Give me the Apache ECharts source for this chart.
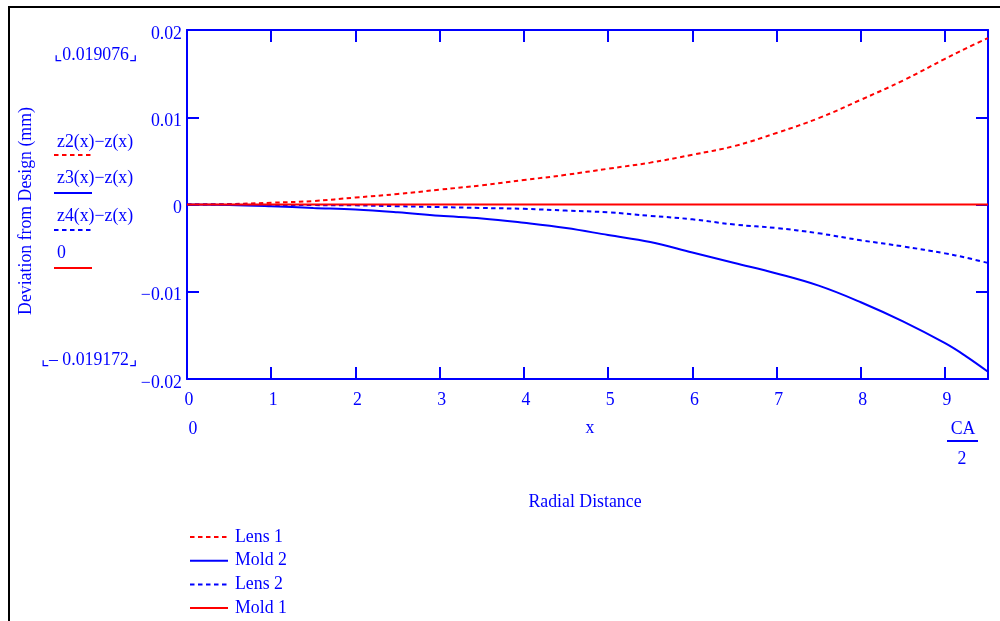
<!DOCTYPE html>
<html>
<head>
<meta charset="utf-8">
<script src="https://cdn.jsdelivr.net/npm/echarts@6/dist/echarts.min.js"></script>
<style>
  html, body { margin: 0; padding: 0; background: #ffffff; }
  #chart { width: 1000px; height: 621px; }
</style>
</head>
<body>
<div id="chart"></div>
<script>
// Radial distance samples (mm), last one is CA/2
const radialDistance = [0, 0.5, 1, 1.5, 2, 2.5, 3, 3.5, 4, 4.5, 5, 5.5, 6, 6.5, 7, 7.5, 8, 8.5, 9, 9.25, 9.51];

// Deviation from design (mm) for each surface
const lens1 = [0, 0.00005, 0.0002, 0.0004, 0.0008, 0.0012, 0.0017, 0.0022, 0.0028, 0.0034, 0.0041, 0.0048, 0.0057, 0.0067, 0.0082, 0.0099, 0.0120, 0.0142, 0.0167, 0.0179, 0.019076];
const mold2 = [0, -0.00005, -0.0002, -0.0004, -0.00058, -0.0009, -0.0013, -0.0016, -0.0021, -0.0027, -0.0035, -0.0043, -0.0055, -0.0067, -0.0079, -0.0093, -0.0112, -0.0134, -0.0159, -0.0174, -0.019172];
const lens2 = [0, 0, -0.00005, -0.00007, -0.0001, -0.0002, -0.0003, -0.0004, -0.0005, -0.0007, -0.0009, -0.0013, -0.0017, -0.0023, -0.0027, -0.0033, -0.0041, -0.0048, -0.0056, -0.0061, -0.0067];
const mold1 = [0, 0, 0, 0, 0, 0, 0, 0, 0, 0, 0, 0, 0, 0, 0, 0, 0, 0, 0, 0, 0];

const seriesNames = ['Lens 1', 'Mold 2', 'Lens 2', 'Mold 1'];
const traceLabels = ['z2(x)\u2212z(x)', 'z3(x)\u2212z(x)', 'z4(x)\u2212z(x)', '0'];

// Axis tick labels
const xTickLabels = ['0', '1', '2', '3', '4', '5', '6', '7', '8', '9'];
const yTickLabels = ['\u22120.02', '\u22120.01', '0', '0.01', '0.02'];
const yMaxLabel = '\u231E0.019076\u231F';
const yMinLabel = '\u231E\u2013 0.019172\u231F';

const X_MIN = 0, X_MAX = 9.51, X_STEP = 1;
const Y_MIN = -0.02, Y_MAX = 0.02, Y_STEP = 0.01;

const BLUE = '#0000ff';
const RED = '#ff0000';
const FONT = '"Liberation Serif", "DejaVu Serif", serif';
const FS = 17.8;

function pairs(ys) {
  return radialDistance.map((x, i) => [x, ys[i]]);
}

const chart = echarts.init(document.getElementById('chart'), null, { renderer: 'canvas' });

const frameAxisLine = { show: true, onZero: false, lineStyle: { color: BLUE, width: 2 } };
const innerTick = { show: true, inside: true, length: 12, lineStyle: { color: BLUE, width: 2 } };

function txt(text, x, y, opts) {
  opts = opts || {};
  return {
    type: 'text',
    x: x, y: y,
    rotation: opts.rotation || 0,
    silent: true,
    style: {
      text: text,
      x: 0, y: 0,
      fill: opts.fill || BLUE,
      font: (opts.size || FS) + 'px ' + FONT,
      textAlign: opts.align || 'left',
      textVerticalAlign: 'middle',
      align: opts.align || 'left',
      verticalAlign: 'middle'
    }
  };
}
function seg(x1, y1, x2, y2, color, dash) {
  return {
    type: 'line',
    silent: true,
    shape: { x1: x1, y1: y1, x2: x2, y2: y2 },
    style: { stroke: color, lineWidth: 2, lineDash: dash || null }
  };
}

const DASH = [4.5, 3.5];

const option = {
  animation: false,
  backgroundColor: '#ffffff',
  textStyle: { fontFamily: FONT, color: BLUE },
  grid: { left: 187, top: 30, width: 801, height: 349, containLabel: false },
  xAxis: [
    {
      type: 'value', position: 'bottom', min: X_MIN, max: X_MAX, interval: X_STEP,
      axisLine: frameAxisLine, axisTick: innerTick, splitLine: { show: false },
      axisLabel: {
        show: true, showMaxLabel: false, margin: 12, color: BLUE, fontFamily: FONT, fontSize: FS,
        padding: [0, 0, 0, 4],
        formatter: v => {
          const i = Math.round(v);
          return Math.abs(v - i) < 1e-6 && xTickLabels[i] !== undefined ? xTickLabels[i] : '';
        }
      }
    },
    {
      type: 'value', position: 'top', min: X_MIN, max: X_MAX, interval: X_STEP,
      axisLine: frameAxisLine, axisTick: innerTick, splitLine: { show: false },
      axisLabel: { show: false }
    }
  ],
  yAxis: [
    {
      type: 'value', position: 'left', min: Y_MIN, max: Y_MAX, interval: Y_STEP,
      axisLine: frameAxisLine, axisTick: innerTick, splitLine: { show: false },
      axisLabel: {
        show: true, margin: 5, color: BLUE, fontFamily: FONT, fontSize: FS,
        verticalAlign: 'top', lineHeight: 8,
        formatter: v => yTickLabels[Math.round((v - Y_MIN) / Y_STEP)] || ''
      }
    },
    {
      type: 'value', position: 'right', min: Y_MIN, max: Y_MAX, interval: Y_STEP,
      axisLine: frameAxisLine, axisTick: innerTick, splitLine: { show: false },
      axisLabel: { show: false }
    }
  ],
  legend: {
    orient: 'vertical',
    left: 189, top: 528, height: 110,
    padding: 0,
    itemWidth: 38, itemHeight: 18, itemGap: 5.7,
    itemStyle: { opacity: 0 },
    lineStyle: { width: 2 },
    textStyle: { color: BLUE, fontFamily: FONT, fontSize: FS, padding: [0, 0, 0, 2] },
    selectedMode: false,
    data: seriesNames
  },
  series: [
    {
      name: seriesNames[0], type: 'line', data: pairs(lens1), smooth: 0.4,
      showSymbol: false, symbol: 'none',
      lineStyle: { color: RED, width: 2, type: DASH }, itemStyle: { color: RED }
    },
    {
      name: seriesNames[1], type: 'line', data: pairs(mold2), smooth: 0.4,
      showSymbol: false, symbol: 'none',
      lineStyle: { color: BLUE, width: 2, type: 'solid' }, itemStyle: { color: BLUE }
    },
    {
      name: seriesNames[2], type: 'line', data: pairs(lens2), smooth: 0.4,
      showSymbol: false, symbol: 'none',
      lineStyle: { color: BLUE, width: 2, type: DASH }, itemStyle: { color: BLUE }
    },
    {
      name: seriesNames[3], type: 'line', data: pairs(mold1),
      showSymbol: false, symbol: 'none',
      lineStyle: { color: RED, width: 2, type: 'solid' }, itemStyle: { color: RED }
    }
  ],
  graphic: [
    // page frame
    {
      type: 'rect', silent: true,
      shape: { x: 9, y: 7, width: 1100, height: 700 },
      style: { fill: 'none', stroke: '#000000', lineWidth: 2 }
    },
    // vertical axis title
    txt('Deviation from Design (mm)', 26, 211, { rotation: Math.PI / 2, align: 'center' }),
    // range markers
    txt(yMaxLabel, 137, 55, { align: 'right' }),
    txt(yMinLabel, 137, 360, { align: 'right' }),
    // trace keys
    txt(traceLabels[0], 57, 142),
    seg(54, 155, 92, 155, RED, DASH),
    txt(traceLabels[1], 57, 178),
    seg(54, 193, 92, 193, BLUE),
    txt(traceLabels[2], 57, 216),
    seg(54, 230, 92, 230, BLUE, DASH),
    txt(traceLabels[3], 57, 253),
    seg(54, 268, 92, 268, RED),
    // range limits of the horizontal axis
    txt('0', 193, 429, { align: 'center' }),
    txt('x', 590, 428, { align: 'center' }),
    txt('CA', 963, 429, { align: 'center' }),
    seg(947, 441, 978, 441, BLUE),
    txt('2', 962, 459, { align: 'center' }),
    // horizontal axis title
    txt('Radial Distance', 585, 502, { align: 'center' })
  ]
};

chart.setOption(option);
</script>
</body>
</html>
